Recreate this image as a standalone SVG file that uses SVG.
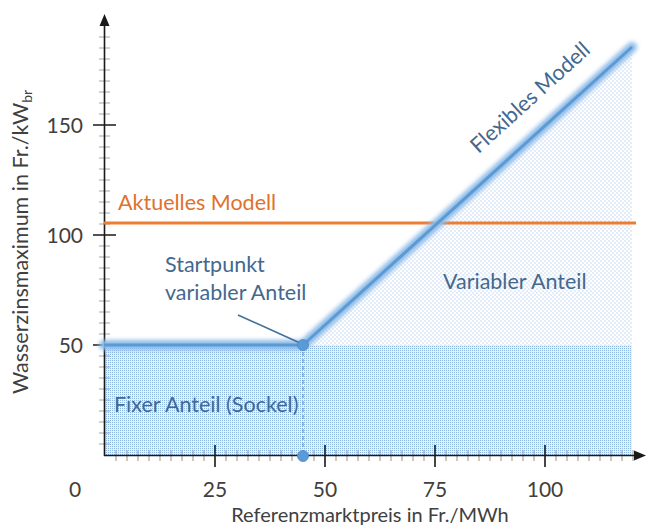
<svg xmlns="http://www.w3.org/2000/svg" width="646" height="530" viewBox="0 0 646 530">
<style>
.tick{font-family:Lato,"Liberation Sans",sans-serif;font-size:21px;fill:#404040}
.axl{font-family:Lato,"Liberation Sans",sans-serif;font-size:20px;fill:#404040}
.axy{font-family:Lato,"Liberation Sans",sans-serif;font-size:21.5px;fill:#404040}
.sub{font-size:14px}
.lbl{font-family:Lato,"Liberation Sans",sans-serif;font-size:21.5px;fill:#44688E}
.orl{font-family:Lato,"Liberation Sans",sans-serif;font-size:21.5px;fill:#E0712B}
.minor{stroke:#A6A6A6;stroke-width:1.2;fill:none}
.major{stroke:#1a1a1a;stroke-width:1.6;fill:none}
</style>
<defs>
<pattern id="dense" width="2" height="2" patternUnits="userSpaceOnUse">
<rect width="2" height="2" fill="#E8F0FA"/>
<rect width="1" height="1" fill="#8DB6E3"/>
</pattern>
<pattern id="sparse" width="4" height="4" patternUnits="userSpaceOnUse">
<rect x="0.5" y="0.5" width="1" height="1" fill="#8EB8E6"/>
<rect x="2.5" y="2.5" width="1" height="1" fill="#8EB8E6"/>
</pattern>
<filter id="glow" x="-10%" y="-10%" width="120%" height="120%">
<feGaussianBlur stdDeviation="2.2"/>
</filter>
</defs>
<g id="fills">
<rect x="105" y="345" width="527" height="110" fill="url(#dense)"/>
<polygon points="303,345 632,47 632,345" fill="url(#sparse)"/>
</g>
<g id="axes">
<path class="minor" d="M99 444h11M99 433h11M99 422h11M99 411h11M99 400h11M99 389h11M99 378h11M99 367h11M99 356h11M99 334h11M99 323h11M99 312h11M99 301h11M99 290h11M99 279h11M99 268h11M99 257h11M99 246h11M99 224h11M99 213h11M99 202h11M99 191h11M99 180h11M99 169h11M99 158h11M99 147h11M99 136h11M99 114h11M99 103h11M99 92h11M99 81h11M99 70h11M99 59h11M99 48h11M99 37h11"/>
<path class="minor" d="M116 450v11M127 450v11M138 450v11M149 450v11M160 450v11M171 450v11M182 450v11M193 450v11M204 450v11M226 450v11M237 450v11M248 450v11M259 450v11M270 450v11M281 450v11M292 450v11M303 450v11M314 450v11M336 450v11M347 450v11M358 450v11M369 450v11M380 450v11M391 450v11M402 450v11M413 450v11M424 450v11M446 450v11M457 450v11M468 450v11M479 450v11M490 450v11M501 450v11M512 450v11M523 450v11M534 450v11M556 450v11M567 450v11M578 450v11M589 450v11M600 450v11M611 450v11M622 450v11M633 450v11"/>
<path class="major" d="M93 345h23M93 235h23M93 125h23M215 445v22M325 445v22M435 445v22M545 445v22"/>
<path class="major" d="M104.5 456V24M104 455.5H636"/>
<polygon points="104.5,14 99.5,26 109.5,26" fill="#1a1a1a"/>
<polygon points="646,455.5 634,450.5 634,460.5" fill="#1a1a1a"/>
</g>
<g id="tick-labels">
<text class="tick" x="83" y="133" text-anchor="end">150</text>
<text class="tick" x="83" y="243" text-anchor="end">100</text>
<text class="tick" x="83" y="353" text-anchor="end">50</text>
<text class="tick" x="75" y="497" text-anchor="middle">0</text>
<text class="tick" x="215" y="497" text-anchor="middle">25</text>
<text class="tick" x="325" y="497" text-anchor="middle">50</text>
<text class="tick" x="435" y="497" text-anchor="middle">75</text>
<text class="tick" x="545" y="497" text-anchor="middle">100</text>
</g>
<g id="axis-labels">
<text class="axl" x="370" y="522" text-anchor="middle">Referenzmarktpreis in Fr./MWh</text>
<text class="axy" transform="translate(28,394) rotate(-90)">Wasserzinsmaximum in Fr./kW<tspan class="sub" dy="4">br</tspan></text>
</g>
<g id="aktuelles-modell">
<path d="M104 223H636" stroke="#F4B183" stroke-width="11" stroke-linecap="round" filter="url(#glow)" fill="none"/>
<path d="M104 223H636" stroke="#ED7D31" stroke-width="3" fill="none"/>
<text class="orl" x="118" y="210">Aktuelles Modell</text>
</g>
<g id="flexibles-modell">
<path d="M104 345H303L632 47" stroke="#8FBBE8" stroke-width="10" stroke-linecap="round" stroke-linejoin="round" filter="url(#glow)" fill="none"/>
<path d="M104 345H303L632 47" stroke="#5B9BD5" stroke-width="3" stroke-linejoin="round" fill="none"/>
<text class="lbl" transform="translate(535,103) rotate(-42.2)" text-anchor="middle">Flexibles Modell</text>
</g>
<g id="connectors">
<path d="M303 345V455" stroke="#5B9BD5" stroke-width="1.2" stroke-dasharray="4 3" fill="none"/>
<path d="M238 315L300 343" stroke="#41719C" stroke-width="1.6" fill="none"/>
</g>
<g id="startpunkt">
<circle cx="303" cy="345" r="5.5" fill="#5B9BD5" stroke="#4A88C6" stroke-width="0.8"/>
<circle cx="303" cy="456" r="5.5" fill="#5B9BD5" stroke="#4A88C6" stroke-width="0.8"/>
<text class="lbl" x="165" y="272">Startpunkt</text>
<text class="lbl" x="165" y="300">variabler Anteil</text>
</g>
<g id="variabler-anteil">
<text class="lbl" x="443" y="289">Variabler Anteil</text>
</g>
<g id="fixer-anteil">
<text class="lbl" x="114" y="412">Fixer Anteil (Sockel)</text>
</g>
</svg>
